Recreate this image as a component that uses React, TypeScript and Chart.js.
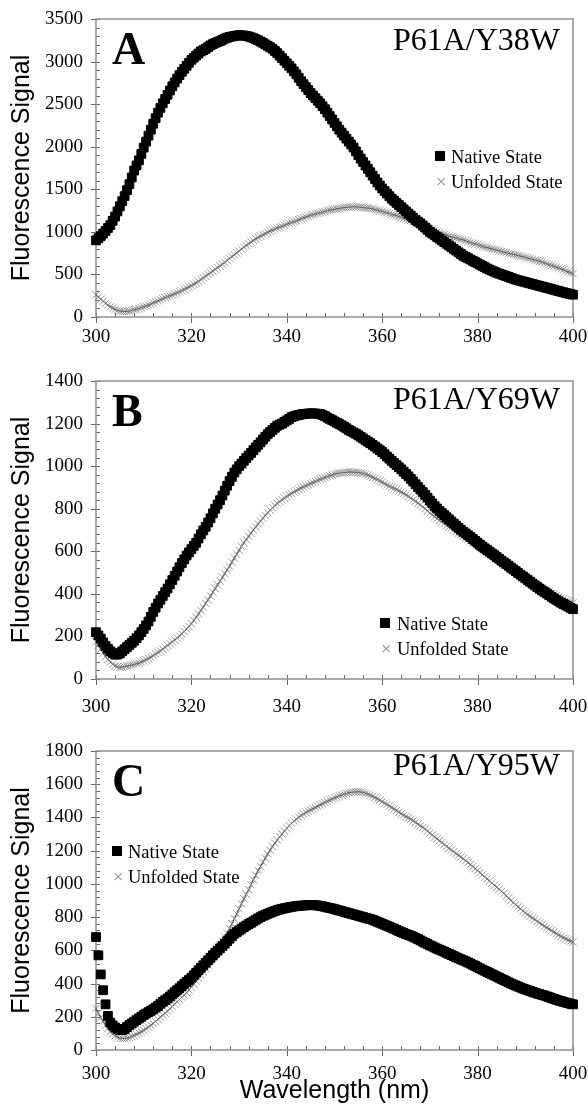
import { useEffect, useRef } from "react";
import { Chart, registerables } from "chart.js";
Chart.register(...registerables);

// ---------- data (wavelength in nm, 0.5 nm sampling) ----------
const WAVELENGTHS = [
  300, 300.5, 301, 301.5, 302, 302.5, 303, 303.5, 304, 304.5,
  305, 305.5, 306, 306.5, 307, 307.5, 308, 308.5, 309, 309.5,
  310, 310.5, 311, 311.5, 312, 312.5, 313, 313.5, 314, 314.5,
  315, 315.5, 316, 316.5, 317, 317.5, 318, 318.5, 319, 319.5,
  320, 320.5, 321, 321.5, 322, 322.5, 323, 323.5, 324, 324.5,
  325, 325.5, 326, 326.5, 327, 327.5, 328, 328.5, 329, 329.5,
  330, 330.5, 331, 331.5, 332, 332.5, 333, 333.5, 334, 334.5,
  335, 335.5, 336, 336.5, 337, 337.5, 338, 338.5, 339, 339.5,
  340, 340.5, 341, 341.5, 342, 342.5, 343, 343.5, 344, 344.5,
  345, 345.5, 346, 346.5, 347, 347.5, 348, 348.5, 349, 349.5,
  350, 350.5, 351, 351.5, 352, 352.5, 353, 353.5, 354, 354.5,
  355, 355.5, 356, 356.5, 357, 357.5, 358, 358.5, 359, 359.5,
  360, 360.5, 361, 361.5, 362, 362.5, 363, 363.5, 364, 364.5,
  365, 365.5, 366, 366.5, 367, 367.5, 368, 368.5, 369, 369.5,
  370, 370.5, 371, 371.5, 372, 372.5, 373, 373.5, 374, 374.5,
  375, 375.5, 376, 376.5, 377, 377.5, 378, 378.5, 379, 379.5,
  380, 380.5, 381, 381.5, 382, 382.5, 383, 383.5, 384, 384.5,
  385, 385.5, 386, 386.5, 387, 387.5, 388, 388.5, 389, 389.5,
  390, 390.5, 391, 391.5, 392, 392.5, 393, 393.5, 394, 394.5,
  395, 395.5, 396, 396.5, 397, 397.5, 398, 398.5, 399, 399.5,
  400,
];

const A_NATIVE = [
  900, 925, 950, 980, 1010, 1045, 1080, 1130, 1180, 1240,
  1300, 1360, 1420, 1490, 1560, 1640, 1720, 1780, 1840, 1915,
  1990, 2060, 2130, 2200, 2270, 2335, 2400, 2455, 2510, 2560,
  2610, 2660, 2710, 2755, 2800, 2840, 2880, 2915, 2950, 2985,
  3020, 3045, 3070, 3095, 3120, 3135, 3150, 3170, 3190, 3205,
  3220, 3230, 3240, 3255, 3270, 3280, 3290, 3295, 3300, 3305,
  3310, 3308, 3305, 3300, 3295, 3285, 3275, 3262, 3250, 3235,
  3220, 3202, 3185, 3168, 3150, 3125, 3100, 3070, 3040, 3010,
  2980, 2950, 2920, 2885, 2850, 2810, 2770, 2735, 2700, 2665,
  2630, 2600, 2570, 2540, 2510, 2475, 2440, 2400, 2360, 2320,
  2280, 2240, 2200, 2165, 2130, 2095, 2060, 2025, 1990, 1945,
  1900, 1860, 1820, 1780, 1740, 1700, 1660, 1620, 1580, 1545,
  1510, 1480, 1450, 1420, 1390, 1365, 1340, 1315, 1290, 1265,
  1240, 1215, 1190, 1165, 1140, 1120, 1100, 1075, 1050, 1025,
  1000, 980, 960, 940, 920, 900, 880, 860, 840, 820,
  800, 780, 760, 740, 720, 705, 690, 675, 660, 645,
  630, 615, 600, 585, 570, 557, 545, 532, 520, 510,
  500, 490, 480, 470, 460, 450, 440, 432, 425, 417,
  410, 402, 395, 387, 380, 372, 365, 357, 350, 342,
  335, 327, 320, 312, 305, 297, 290, 282, 275, 268,
  262,
];
const A_UNFOLDED = [
  260, 235, 210, 185, 160, 140, 120, 105, 90, 80,
  70, 67, 65, 67, 70, 77, 85, 92, 100, 110,
  120, 130, 140, 152, 165, 177, 190, 202, 215, 228,
  240, 250, 260, 272, 285, 297, 310, 325, 340, 355,
  370, 385, 400, 420, 440, 460, 480, 500, 520, 540,
  560, 580, 600, 620, 640, 665, 690, 710, 730, 752,
  775, 797, 820, 840, 860, 880, 900, 918, 935, 950,
  965, 980, 995, 1008, 1020, 1032, 1045, 1055, 1065, 1078,
  1090, 1100, 1110, 1120, 1130, 1142, 1155, 1165, 1175, 1185,
  1195, 1202, 1210, 1218, 1225, 1232, 1240, 1248, 1255, 1260,
  1265, 1270, 1275, 1280, 1285, 1288, 1290, 1292, 1295, 1294,
  1292, 1289, 1285, 1282, 1280, 1275, 1270, 1262, 1255, 1248,
  1240, 1232, 1225, 1215, 1205, 1198, 1190, 1180, 1170, 1160,
  1150, 1142, 1135, 1122, 1110, 1100, 1090, 1078, 1065, 1052,
  1040, 1028, 1015, 1002, 990, 980, 970, 960, 950, 942,
  935, 928, 920, 912, 905, 895, 885, 875, 865, 858,
  850, 840, 830, 822, 815, 808, 800, 792, 785, 778,
  770, 762, 755, 748, 740, 735, 730, 722, 715, 708,
  700, 692, 685, 678, 670, 662, 655, 645, 635, 625,
  615, 605, 595, 585, 575, 565, 555, 542, 530, 520,
  510,
];

const B_NATIVE = [
  220, 205, 190, 172, 155, 142, 130, 122, 115, 115,
  120, 130, 140, 150, 160, 170, 180, 192, 205, 220,
  235, 252, 270, 292, 315, 335, 355, 372, 390, 408,
  425, 445, 465, 485, 505, 525, 545, 562, 580, 595,
  610, 625, 640, 660, 680, 698, 715, 735, 755, 778,
  800, 820, 840, 862, 885, 908, 930, 950, 970, 985,
  1000, 1012, 1025, 1038, 1050, 1062, 1075, 1088, 1100, 1112,
  1125, 1138, 1150, 1160, 1170, 1180, 1190, 1195, 1200, 1208,
  1215, 1222, 1230, 1234, 1238, 1240, 1243, 1245, 1246, 1247,
  1248, 1248, 1247, 1246, 1245, 1240, 1235, 1228, 1222, 1216,
  1210, 1204, 1198, 1192, 1185, 1178, 1170, 1164, 1158, 1152,
  1145, 1138, 1130, 1122, 1115, 1108, 1100, 1092, 1083, 1075,
  1066, 1056, 1045, 1035, 1025, 1015, 1005, 995, 985, 974,
  963, 952, 940, 928, 915, 902, 890, 878, 865, 852,
  838, 825, 812, 801, 790, 780, 770, 760, 750, 740,
  730, 720, 710, 701, 692, 684, 675, 667, 658, 649,
  640, 631, 622, 614, 606, 598, 590, 582, 573, 565,
  556, 548, 540, 532, 523, 515, 507, 498, 490, 482,
  473, 465, 457, 448, 440, 432, 424, 416, 409, 402,
  394, 386, 379, 372, 365, 358, 352, 346, 340, 334,
  328,
];
const B_UNFOLDED = [
  175, 158, 140, 122, 105, 92, 80, 70, 62, 58,
  55, 56, 58, 60, 63, 65, 68, 72, 75, 80,
  85, 91, 97, 103, 110, 118, 125, 132, 140, 149,
  158, 166, 175, 184, 193, 202, 212, 223, 235, 247,
  260, 275, 290, 306, 322, 338, 355, 372, 390, 408,
  425, 442, 460, 478, 495, 512, 530, 549, 568, 586,
  605, 622, 640, 655, 670, 685, 700, 714, 728, 742,
  755, 768, 782, 794, 805, 815, 825, 834, 842, 850,
  858, 865, 872, 878, 885, 891, 897, 902, 908, 913,
  918, 923, 928, 933, 938, 942, 947, 951, 955, 958,
  962, 965, 967, 968, 970, 971, 972, 972, 972, 971,
  970, 968, 965, 962, 958, 953, 948, 942, 937, 931,
  925, 918, 912, 906, 900, 895, 890, 884, 878, 872,
  865, 858, 850, 842, 835, 826, 818, 809, 800, 790,
  780, 771, 762, 753, 745, 738, 730, 722, 715, 708,
  700, 692, 685, 678, 672, 665, 658, 650, 643, 636,
  628, 620, 612, 604, 596, 588, 580, 572, 565, 558,
  550, 542, 535, 527, 519, 511, 504, 497, 490, 483,
  476, 469, 462, 455, 448, 441, 434, 427, 421, 415,
  409, 403, 397, 391, 386, 381, 376, 371, 367, 362,
  358,
];

const C_NATIVE = [
  680, 570, 455, 360, 275, 205, 165, 148, 135, 126,
  120, 120, 125, 138, 150, 160, 170, 180, 190, 200,
  210, 219, 228, 236, 245, 255, 265, 278, 290, 300,
  310, 322, 335, 348, 360, 372, 385, 398, 410, 422,
  435, 450, 465, 480, 495, 510, 525, 540, 555, 570,
  585, 598, 612, 626, 640, 655, 670, 685, 700, 710,
  720, 730, 740, 749, 758, 766, 775, 784, 792, 800,
  808, 814, 820, 826, 832, 837, 842, 846, 850, 853,
  856, 859, 862, 864, 866, 868, 869, 870, 871, 872,
  872, 872, 871, 870, 868, 865, 862, 858, 855, 852,
  848, 844, 840, 836, 832, 828, 824, 820, 816, 812,
  808, 804, 800, 796, 792, 788, 784, 778, 772, 766,
  760, 754, 748, 742, 736, 730, 723, 716, 710, 704,
  698, 693, 688, 682, 675, 668, 660, 652, 645, 638,
  630, 624, 617, 610, 604, 598, 592, 585, 578, 572,
  565, 558, 552, 546, 540, 534, 527, 520, 513, 506,
  498, 491, 484, 477, 470, 463, 456, 449, 442, 435,
  428, 421, 414, 407, 400, 394, 388, 382, 376, 370,
  365, 360, 355, 350, 345, 340, 336, 332, 328, 323,
  318, 313, 308, 303, 298, 294, 290, 286, 282, 278,
  275,
];
const C_UNFOLDED = [
  250, 222, 195, 172, 150, 130, 110, 97, 85, 78,
  72, 70, 70, 72, 75, 81, 88, 95, 102, 110,
  118, 128, 138, 149, 160, 172, 185, 198, 210, 222,
  235, 248, 262, 276, 290, 304, 318, 331, 345, 361,
  378, 396, 415, 432, 450, 470, 490, 512, 535, 558,
  580, 605, 630, 655, 680, 705, 730, 760, 790, 820,
  850, 880, 910, 938, 965, 995, 1025, 1052, 1080, 1105,
  1130, 1155, 1180, 1202, 1225, 1245, 1265, 1282, 1300, 1318,
  1335, 1350, 1365, 1378, 1390, 1401, 1412, 1421, 1430, 1438,
  1445, 1452, 1460, 1468, 1475, 1482, 1490, 1498, 1505, 1512,
  1518, 1524, 1530, 1535, 1540, 1544, 1548, 1551, 1553, 1554,
  1555, 1553, 1550, 1545, 1540, 1534, 1528, 1520, 1512, 1504,
  1495, 1486, 1478, 1469, 1460, 1451, 1442, 1432, 1422, 1414,
  1405, 1398, 1390, 1380, 1370, 1360, 1350, 1340, 1330, 1318,
  1305, 1294, 1282, 1271, 1260, 1249, 1238, 1226, 1215, 1204,
  1193, 1182, 1172, 1162, 1152, 1140, 1128, 1116, 1105, 1092,
  1080, 1068, 1055, 1042, 1030, 1018, 1005, 992, 980, 968,
  955, 942, 928, 914, 900, 888, 875, 862, 850, 838,
  825, 815, 805, 795, 785, 775, 765, 755, 745, 736,
  728, 719, 710, 701, 692, 684, 676, 669, 662, 656,
  650,
];

const SERIES_LABELS = ["Native State", "Unfolded State"];
const PANEL_LETTERS = ["A", "B", "C"];
const PANEL_NAMES = ["P61A/Y38W", "P61A/Y69W", "P61A/Y95W"];
const Y_MAX = [3500, 1400, 1800];
const Y_STEP = [500, 200, 200];
const X_MIN = 300;
const X_MAX = 400;
const X_STEP = 20;
const Y_TITLE = "Fluorescence Signal";
const X_TITLE = "Wavelength (nm)";

// ---------- styling / layout ----------
const SERIF = '"Liberation Serif", "Times New Roman", serif';
const SANS = '"Liberation Sans", Arial, sans-serif';
const W = 588;

type Layout = {
  top: number;
  height: number;
  padTop: number;
  xAxisH: number;
  xTickPad: number;
  showXTitle: boolean;
  nameBase: number;
  legend: { sqX: number; textX: number; b1: number; b2: number };
};

const LAYOUTS: Layout[] = [
  { top: 0, height: 360, padTop: 19, xAxisH: 43, xTickPad: 9, showXTitle: false, nameBase: 31,
    legend: { sqX: 435, textX: 451, b1: 163, b2: 188 } },
  { top: 360, height: 370, padTop: 21, xAxisH: 51, xTickPad: 17, showXTitle: false, nameBase: 28,
    legend: { sqX: 380, textX: 397, b1: 270, b2: 295 } },
  { top: 730, height: 384, padTop: 21, xAxisH: 64, xTickPad: 13, showXTitle: true, nameBase: 24,
    legend: { sqX: 112, textX: 128, b1: 128, b2: 153 } },
];

function pts(xs: number[], ys: number[]) {
  return xs.map((x, i) => ({ x, y: ys[i] }));
}

const PANEL_DATA = [
  { native: pts(WAVELENGTHS, A_NATIVE), unfolded: pts(WAVELENGTHS, A_UNFOLDED) },
  { native: pts(WAVELENGTHS, B_NATIVE), unfolded: pts(WAVELENGTHS, B_UNFOLDED) },
  { native: pts(WAVELENGTHS, C_NATIVE), unfolded: pts(WAVELENGTHS, C_UNFOLDED) },
];

const framePlugin = {
  id: "frameTicks",
  beforeDatasetsDraw(chart: any, _a: any, opts: any) {
    const { ctx, chartArea: ca, scales } = chart;
    const xs = scales.x, ys = scales.y;
    ctx.save();
    ctx.strokeStyle = "#666";
    ctx.lineWidth = 1;
    ctx.beginPath();
    const xMinor = opts.xMajor / 5;
    for (let v = xs.min; v <= xs.max + 1e-6; v += xMinor) {
      const px = Math.round(xs.getPixelForValue(v)) + 0.5;
      const major = Math.abs(v / opts.xMajor - Math.round(v / opts.xMajor)) < 1e-6;
      ctx.moveTo(px, ca.bottom - 4);
      ctx.lineTo(px, ca.bottom + (major ? 6 : 0));
    }
    const yMinor = opts.yMajor / 5;
    for (let v = ys.min; v <= ys.max + 1e-6; v += yMinor) {
      const py = Math.round(ys.getPixelForValue(v)) + 0.5;
      const major = Math.abs(v / opts.yMajor - Math.round(v / opts.yMajor)) < 1e-6;
      ctx.moveTo(ca.left - (major ? 5 : 0), py);
      ctx.lineTo(ca.left + 4, py);
    }
    ctx.stroke();
    ctx.strokeStyle = "#8e8e8e";
    ctx.lineWidth = 1.5;
    ctx.strokeRect(ca.left, ca.top, ca.right - ca.left, ca.bottom - ca.top);
    ctx.restore();
  },
  afterDatasetsDraw(chart: any, _a: any, opts: any) {
    const { ctx, chartArea: ca } = chart;
    ctx.save();
    ctx.fillStyle = "#000";
    ctx.textBaseline = "alphabetic";
    ctx.font = `bold 46px ${SERIF}`;
    ctx.textAlign = "left";
    ctx.fillText(opts.letter, 112, ca.top + 45);
    ctx.font = `32px ${SERIF}`;
    ctx.textAlign = "right";
    ctx.fillText(opts.name, 560, ca.top + opts.nameBase);
    const lg = opts.legend;
    const labels = chart.data.datasets.map((d: any) => d.label);
    ctx.textAlign = "left";
    ctx.font = `18.5px ${SERIF}`;
    ctx.fillStyle = "#000";
    ctx.fillRect(lg.sqX, lg.b1 - 12, 10, 10);
    ctx.fillText(labels[0], lg.textX, lg.b1);
    ctx.fillStyle = "#8a8a8a";
    ctx.fillText("\u00d7", lg.sqX + 1, lg.b2);
    ctx.fillStyle = "#000";
    ctx.fillText(labels[1], lg.textX, lg.b2);
    ctx.restore();
  },
};

function Panel({ idx }: { idx: number }) {
  const ref = useRef<HTMLCanvasElement>(null);
  useEffect(() => {
    const L = LAYOUTS[idx];
    const D = PANEL_DATA[idx];
    const chart = new Chart(ref.current as HTMLCanvasElement, {
      type: "scatter",
      data: {
        datasets: [
          {
            label: SERIES_LABELS[0],
            data: D.native,
            pointStyle: "rect",
            pointRadius: 6.2,
            pointBackgroundColor: "#000",
            pointBorderColor: "#000",
            pointBorderWidth: 1,
            showLine: false,
            clip: false,
            order: 1,
          },
          {
            label: SERIES_LABELS[1],
            data: D.unfolded,
            pointStyle: "crossRot",
            pointRadius: 5.2,
            pointBorderColor: "rgba(120,120,120,0.75)",
            pointBorderWidth: 1,
            showLine: true,
            borderColor: "#2a2a2a",
            borderWidth: 0.9,
            tension: 0,
            clip: false,
            order: 2,
          },
        ],
      },
      options: {
        responsive: false,
        animation: false,
        devicePixelRatio: 1,
        layout: { padding: { top: L.padTop, right: 15, left: 0, bottom: 0 } },
        plugins: {
          legend: { display: false },
          tooltip: { enabled: false },
          frameTicks: {
            xMajor: X_STEP,
            yMajor: Y_STEP[idx],
            letter: PANEL_LETTERS[idx],
            name: PANEL_NAMES[idx],
            nameBase: L.nameBase,
            legend: L.legend,
          },
        } as any,
        scales: {
          x: {
            type: "linear",
            min: X_MIN,
            max: X_MAX,
            grid: { display: false, drawTicks: false },
            border: { display: false },
            ticks: {
              stepSize: X_STEP,
              autoSkip: false,
              maxRotation: 0,
              padding: L.xTickPad,
              color: "#000",
              font: { family: SERIF, size: 19 },
              callback: (v: any) => String(v),
            },
            title: {
              display: L.showXTitle,
              text: X_TITLE,
              color: "#000",
              font: { family: SANS, size: 25 },
              padding: { top: 0, bottom: 8 },
            },
            afterFit: (s: any) => {
              s.height = L.xAxisH;
              s.paddingLeft = 0;
              s.paddingRight = 0;
            },
          },
          y: {
            type: "linear",
            min: 0,
            max: Y_MAX[idx],
            grid: { display: false, drawTicks: false },
            border: { display: false },
            ticks: {
              stepSize: Y_STEP[idx],
              autoSkip: false,
              padding: 13,
              color: "#000",
              font: { family: SERIF, size: 19 },
              callback: (v: any) => String(v),
            },
            title: {
              display: true,
              text: Y_TITLE,
              color: "#000",
              font: { family: SANS, size: 25 },
              padding: { top: 7, bottom: 0 },
            },
            afterFit: (s: any) => {
              s.width = 96;
              s.paddingTop = 0;
              s.paddingBottom = 0;
            },
          },
        },
      } as any,
      plugins: [framePlugin as any],
    });
    return () => chart.destroy();
  }, [idx]);
  const L = LAYOUTS[idx];
  return (
    <canvas
      ref={ref}
      width={W}
      height={L.height}
      style={{ position: "absolute", left: 0, top: L.top, width: W, height: L.height }}
    />
  );
}

export default function App() {
  return (
    <div style={{ position: "absolute", left: 0, top: 0, width: W, height: 1114, background: "#fff" }}>
      <Panel idx={0} />
      <Panel idx={1} />
      <Panel idx={2} />
    </div>
  );
}
